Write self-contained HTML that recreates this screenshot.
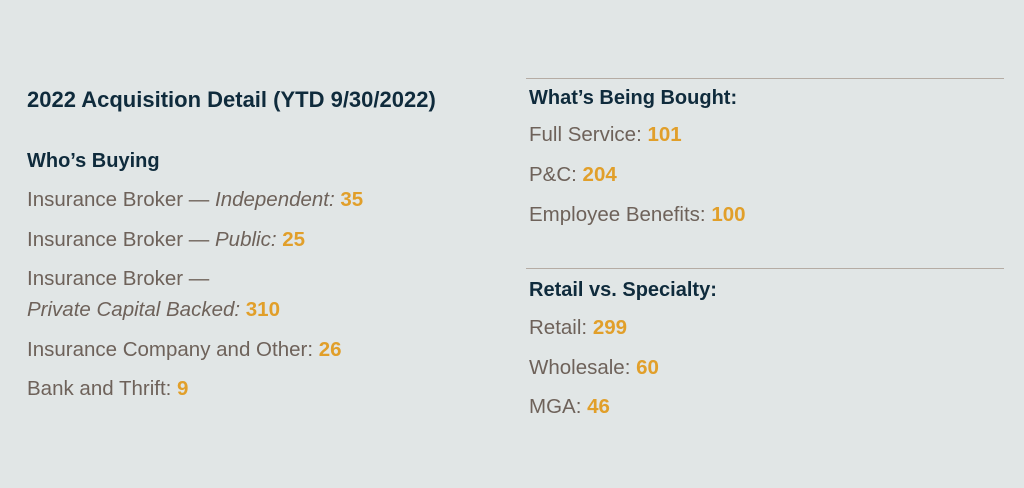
<!DOCTYPE html>
<html><head><meta charset="utf-8">
<style>
html,body{margin:0;padding:0}
body{width:1024px;height:488px;background:#e1e6e6;position:relative;overflow:hidden;font-family:"Liberation Sans",sans-serif}
.t{position:absolute;white-space:nowrap;color:#6e625a;font-size:20.5px;line-height:24px}
.h{color:#0f2b3c;font-weight:bold;font-size:20px}
.title{color:#0f2b3c;font-weight:bold;font-size:22px;font-family:"Liberation Sans Narrow","Liberation Sans",sans-serif;font-stretch:condensed}
.n{color:#e19f2a;font-weight:bold}
i{font-style:italic}
.rule{position:absolute;left:526px;width:478px;height:1px;background:#b5aca4}
</style></head><body>
<div class="t title" style="left:27px;top:88px">2022 Acquisition Detail (YTD 9/30/2022)</div>
<div class="t h" style="left:27px;top:149px">Who’s Buying</div>
<div class="t" style="left:27px;top:188px">Insurance Broker — <i>Independent:</i> <span class="n">35</span></div>
<div class="t" style="left:27px;top:228px">Insurance Broker — <i>Public:</i> <span class="n">25</span></div>
<div class="t" style="left:27px;top:267px">Insurance Broker —<br><span style="display:inline-block;margin-top:7px"><i>Private Capital Backed:</i> <span class="n">310</span></span></div>
<div class="t" style="left:27px;top:338px">Insurance Company and Other: <span class="n">26</span></div>
<div class="t" style="left:27px;top:377px">Bank and Thrift: <span class="n">9</span></div>

<div class="rule" style="top:78px"></div>
<div class="t h" style="left:529px;top:86px">What’s Being Bought:</div>
<div class="t" style="left:529px;top:123px">Full Service: <span class="n">101</span></div>
<div class="t" style="left:529px;top:163px">P&amp;C: <span class="n">204</span></div>
<div class="t" style="left:529px;top:203px">Employee Benefits: <span class="n">100</span></div>

<div class="rule" style="top:268px"></div>
<div class="t h" style="left:529px;top:278px">Retail vs. Specialty:</div>
<div class="t" style="left:529px;top:316px">Retail: <span class="n">299</span></div>
<div class="t" style="left:529px;top:356px">Wholesale: <span class="n">60</span></div>
<div class="t" style="left:529px;top:395px">MGA: <span class="n">46</span></div>
</body></html>
